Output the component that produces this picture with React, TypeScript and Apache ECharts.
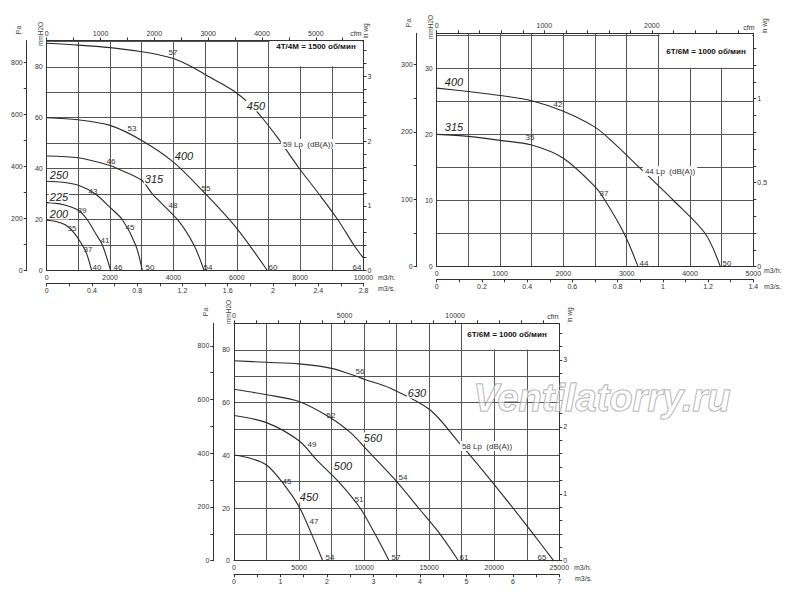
import React, { useEffect, useRef } from 'react';
import * as echarts from 'echarts';

const FONT = '"Liberation Sans", Arial, sans-serif';
const M3H_PER_CFM = 1.699;
const PA_PER_MM = 9.80665;
const MM_PER_INWG = 25.4;

// ---------- Chart 1: 4T/4M = 1500 об/мин (m3/h, mmH2O) ----------
const C1_TITLE = '4T/4M = 1500 об/мин';
const C1_200 = [[0, 19.8], [300, 19.3], [600, 17.9], [850, 15], [1050, 11.5], [1250, 7], [1420, 0]];
const C1_225 = [[0, 26.7], [500, 26], [1000, 23.7], [1280, 20], [1550, 14.5], [1760, 10], [2020, 0]];
const C1_250 = [[0, 35.1], [500, 34.7], [1000, 33.5], [1550, 30], [2000, 24.8], [2390, 20], [2810, 10], [3020, 0]];
const C1_315 = [[0, 45], [1000, 44.3], [2000, 41.3], [2280, 39.8], [3000, 35.5], [3340, 30], [4130, 20], [4650, 10], [4970, 0]];
const C1_400 = [[0, 60], [1000, 59.2], [2000, 57], [3000, 51.1], [4000, 42.6], [5000, 30.3], [6000, 16.6], [6970, 0]];
const C1_450 = [[0, 89.2], [1000, 88.5], [2000, 87.5], [3000, 85.9], [3500, 84.8], [4000, 83.2], [4500, 80.5], [5000, 77], [5500, 73.5], [5960, 70], [6400, 65.5], [6800, 60], [7300, 52], [7980, 40], [8600, 30], [9190, 20], [9700, 10], [10000, 4.9]];
const C1_DB = [
  [4000, 85.6, '57'], [2690, 55.8, '53'], [2035, 43, '46'], [1475, 31.4, '43'], [1107, 23.8, '39'],
  [790, 16.9, '35'], [1317, 8.5, '37'], [1590, 1.6, '40'], [1845, 12, '41'], [2235, 1.6, '46'],
  [2635, 17.3, '45'], [3270, 1.6, '50'], [3990, 25.8, '48'], [5095, 1.6, '54'], [5030, 32.5, '55'],
  [7140, 1.6, '60'], [9810, 1.6, '64'],
];
const C1_LP = [[8250, 49.6, '59 Lp  (dB(A))']];
const C1_SIZES = [
  [6620, 64.6, '450'], [4320, 45, '400'], [3400, 36, '315'],
  [400, 37.4, '250'], [400, 29, '225'], [400, 22.1, '200'],
];

// ---------- Chart 2: 6T/6M = 1000 об/мин (m3/h, mmH2O) ----------
const C2_TITLE = '6T/6M = 1000 об/мин';
const C2_315 = [[0, 20], [500, 19.7], [1000, 19.1], [1500, 18.4], [2000, 16.4], [2500, 12.1], [2660, 10], [2960, 5], [3180, 0]];
const C2_400 = [[0, 27], [500, 26.5], [1000, 25.9], [1500, 25.1], [2000, 23.5], [2500, 21.1], [2740, 19.2], [3200, 15], [3740, 10], [4240, 5], [4480, 0]];
const C2_DB = [
  [1920, 24.6, '42'], [1470, 19.6, '35'], [2650, 11.2, '37'], [3280, 0.6, '44'], [4590, 0.6, '50'],
];
const C2_LP = [[3690, 14.4, '44 Lp  (dB(A))']];
const C2_SIZES = [[280, 28, '400'], [280, 21.1, '315']];

// ---------- Chart 3: 6T/6M = 1000 об/мин (m3/h, mmH2O) ----------
const C3_TITLE = '6T/6M = 1000 об/мин';
const C3_450 = [[0, 40.1], [1250, 38.9], [2500, 36.3], [3670, 30], [5000, 20.5], [5970, 10], [6820, 0]];
const C3_500 = [[0, 55.1], [2500, 52.4], [5000, 45.5], [6400, 38], [8030, 30], [9690, 20], [10850, 10], [11920, 0]];
const C3_560 = [[0, 65.1], [2500, 63], [5000, 60.4], [7500, 54], [9000, 48.4], [10000, 43.2], [12510, 30], [14180, 20], [15850, 10], [17250, 0]];
const C3_630 = [[0, 75.9], [2500, 75.3], [5000, 74.7], [7500, 73], [9400, 70], [10000, 68.9], [12000, 65.5], [15080, 57.2], [17500, 43.6], [18150, 40], [19820, 30], [21440, 20], [23020, 10], [24560, 0]];
const C3_DB = [
  [9690, 72.1, '56'], [7440, 55.3, '52'], [5980, 44.3, '49'], [4100, 30.4, '45'], [6150, 15.1, '47'],
  [7380, 1.5, '54'], [9590, 23.4, '51'], [12440, 1.5, '57'], [12950, 31.7, '54'], [17690, 1.5, '61'],
  [23670, 1.5, '65'],
];
const C3_LP = [[19480, 43.7, '58 Lp  (dB(A))']];
const C3_SIZES = [[14050, 63.6, '630'], [10720, 46.5, '560'], [8410, 36, '500'], [5790, 24.1, '450']];

const CHARTS = [
  {
    title: C1_TITLE, box: [269.5, 41, 93, 25.2], titlePos: [316, 46],
    grid: { left: 46.7, top: 40.5, width: 316.8, height: 230.2 },
    xMax: 10000, xSplit: 1000, xLabel: 2000,
    yMax: 90.3, ySplit: 10, yLabel: 20,
    paSplit: 100, paLabel: 200, paOffset: 20,
    inSplit: 0.2, inLabel: 1,
    cfmSplit: 500, cfmLabel: 1000,
    m3sMax: 2.8, m3sSplit: 0.2, m3sLabel: 0.4, m3sOffset: 12.6,
    curves: [C1_200, C1_225, C1_250, C1_315, C1_400, C1_450],
    db: C1_DB, lp: C1_LP, sizes: C1_SIZES,
    units: { pa: [18, 30], mm: [40, 34], inwg: [365, 31], cfm: [356, 33], m3h: [378, 277], m3s: [378, 288] },
  },
  {
    title: C2_TITLE, box: [659.5, 34, 92.8, 33.8], titlePos: [706, 51],
    grid: { left: 436.7, top: 33.3, width: 316.6, height: 233.3 },
    xMax: 5000, xSplit: 500, xLabel: 1000,
    yMax: 35.3, ySplit: 5, yLabel: 10,
    paSplit: 50, paLabel: 100, paOffset: 20,
    inSplit: 0.1, inLabel: 0.5,
    cfmSplit: 200, cfmLabel: 1000,
    m3sMax: 1.4, m3sSplit: 0.1, m3sLabel: 0.2, m3sOffset: 12.7,
    curves: [C2_315, C2_400],
    db: C2_DB, lp: C2_LP, sizes: C2_SIZES,
    units: { pa: [408, 23], mm: [430, 27], inwg: [764, 26], cfm: [749, 27], m3h: [764, 270], m3s: [764, 286] },
  },
  {
    title: C3_TITLE, box: [462.5, 324, 96, 25.5], titlePos: [507, 334],
    grid: { left: 234, top: 323.3, width: 325.3, height: 237.4 },
    xMax: 25000, xSplit: 2500, xLabel: 5000,
    yMax: 90.1, ySplit: 10, yLabel: 20,
    paSplit: 100, paLabel: 200, paOffset: 20.7,
    inSplit: 0.2, inLabel: 1,
    cfmSplit: 1000, cfmLabel: 5000,
    m3sMax: 7, m3sSplit: 0.5, m3sLabel: 1, m3sOffset: 13.6,
    curves: [C3_450, C3_500, C3_560, C3_630],
    db: C3_DB, lp: C3_LP, sizes: C3_SIZES,
    units: { pa: [205, 312], mm: [228, 312], inwg: [569, 315], cfm: [553, 316], m3h: [574, 567], m3s: [575, 578] },
  },
];

const isMult = (v: number, s: number) => Math.abs(v / s - Math.round(v / s)) < 1e-6;
const fmt = (s: number) => (v: number) => (isMult(v, s) ? String(+v.toFixed(3)) : '');
const tickVals = (max: number, step: number) => {
  const a: number[] = [];
  for (let i = 0; i * step <= max + 1e-9; i++) a.push(+(i * step).toFixed(4));
  return a;
};

const AX = '#333';
const labelStyle = { fontSize: 7, color: '#333', fontFamily: FONT };

function textSeries(xi: number, yi: number, items: any[], font: string, fill: string, bg: string | null, pad: number[]) {
  return {
    type: 'custom', coordinateSystem: 'cartesian2d', xAxisIndex: xi, yAxisIndex: yi, silent: true, z: 5,
    data: items.map(([x, y]) => [x, y]),
    renderItem: (params: any, api: any) => {
      const p = api.coord([api.value(0), api.value(1)]);
      const style: any = {
        text: items[params.dataIndex][2], font, fill, align: 'center', verticalAlign: 'middle',
      };
      if (bg) { style.backgroundColor = bg; style.padding = pad; }
      return { type: 'text', x: Math.round(p[0]), y: Math.round(p[1]), style };
    },
  };
}

function buildOption() {
  const grid: any[] = [];
  const xAxis: any[] = [];
  const yAxis: any[] = [];
  const series: any[] = [];
  const graphic: any[] = [];

  CHARTS.forEach((c, i) => {
    grid.push({ ...c.grid, containLabel: false });
    const cfmMax = c.xMax / M3H_PER_CFM;
    const paMax = c.yMax * PA_PER_MM;
    const inMax = c.yMax / MM_PER_INWG;
    // m3/h
    xAxis.push({
      type: 'value', gridIndex: i, position: 'bottom', min: 0, max: c.xMax, interval: c.xSplit,
      axisLine: { show: true, onZero: false, lineStyle: { color: AX, width: 1 } },
      axisTick: { show: false },
      axisLabel: { ...labelStyle, margin: 3, formatter: fmt(c.xLabel) },
      splitLine: { show: true, lineStyle: { color: '#555', width: 1 } },
    });
    // cfm
    xAxis.push({
      type: 'value', gridIndex: i, position: 'top', min: 0, max: cfmMax, interval: c.cfmSplit,
      axisLine: { show: true, onZero: false, lineStyle: { color: AX, width: 1 } },
      axisTick: { show: true, length: 3, lineStyle: { color: AX }, customValues: tickVals(cfmMax, c.cfmSplit) },
      axisLabel: { ...labelStyle, margin: 4, formatter: fmt(c.cfmLabel) },
      splitLine: { show: false },
    });
    // m3/s
    xAxis.push({
      type: 'value', gridIndex: i, position: 'bottom', offset: c.m3sOffset, min: 0, max: c.m3sMax, interval: c.m3sSplit,
      axisLine: { show: true, onZero: false, lineStyle: { color: AX, width: 1 } },
      axisTick: { show: true, length: 3, lineStyle: { color: AX } },
      axisLabel: { ...labelStyle, margin: 4, formatter: fmt(c.m3sLabel) },
      splitLine: { show: false },
    });
    // mmH2O
    yAxis.push({
      type: 'value', gridIndex: i, position: 'left', min: 0, max: c.yMax, interval: c.ySplit,
      axisLine: { show: true, onZero: false, lineStyle: { color: AX, width: 1 } },
      axisTick: { show: false },
      axisLabel: { ...labelStyle, margin: 4, formatter: fmt(c.yLabel) },
      splitLine: { show: true, lineStyle: { color: '#555', width: 1 } },
    });
    // Pa
    yAxis.push({
      type: 'value', gridIndex: i, position: 'left', offset: c.paOffset, min: 0, max: paMax, interval: c.paSplit,
      axisLine: { show: true, onZero: false, lineStyle: { color: AX, width: 1 } },
      axisTick: { show: true, length: 3, lineStyle: { color: AX }, customValues: tickVals(paMax, c.paSplit) },
      axisLabel: { ...labelStyle, margin: 4, formatter: fmt(c.paLabel) },
      splitLine: { show: false },
    });
    // in wg
    yAxis.push({
      type: 'value', gridIndex: i, position: 'right', min: 0, max: inMax, interval: c.inSplit,
      axisLine: { show: true, onZero: false, lineStyle: { color: AX, width: 1 } },
      axisTick: { show: true, length: 3, lineStyle: { color: AX }, customValues: tickVals(inMax, c.inSplit) },
      axisLabel: { ...labelStyle, margin: 4, formatter: fmt(c.inLabel) },
      splitLine: { show: false },
    });

    const xi = i * 3;
    const yi = i * 3;
    c.curves.forEach((d) => {
      series.push({
        type: 'line', xAxisIndex: xi, yAxisIndex: yi, data: d, smooth: 0.3,
        symbol: 'none', showSymbol: false, silent: true, z: 3,
        lineStyle: { color: '#2a2a2a', width: 1.1 },
        emphasis: { disabled: true },
      });
    });
    series.push(textSeries(xi, yi, c.db, `8px ${FONT}`, '#333', null, [0, 0]));
    series.push(textSeries(xi, yi, c.lp, `8px ${FONT}`, '#333', '#fff', [1, 2]));
    series.push(textSeries(xi, yi, c.sizes, `italic 11px ${FONT}`, '#222', '#fff', [0, 1]));

    // title box
    graphic.push({
      type: 'rect', z: 50, shape: { x: c.box[0], y: c.box[1], width: c.box[2], height: c.box[3] },
      style: { fill: '#fff' }, silent: true,
    });
    graphic.push({
      type: 'text', z: 51, x: c.titlePos[0], y: c.titlePos[1], silent: true,
      style: { text: c.title, font: `bold 8px ${FONT}`, fill: '#111', align: 'center', verticalAlign: 'middle' },
    });
    const u = c.units;
    const rot = (p: number[], t: string, size = 7) => ({
      type: 'text', z: 51, x: p[0], y: p[1], rotation: Math.PI / 2, silent: true,
      style: { text: t, font: `${size}px ${FONT}`, fill: '#444', align: 'center', verticalAlign: 'middle' },
    });
    graphic.push(rot(u.pa, 'Pa', 7));
    graphic.push(rot(u.mm, 'mmH2O', 6.5));
    graphic.push(rot(u.inwg, 'in wg', 6.5));
    graphic.push({
      type: 'text', z: 51, x: u.cfm[0], y: u.cfm[1], silent: true,
      style: { text: 'cfm', font: `7px ${FONT}`, fill: '#333', align: 'center', verticalAlign: 'middle' },
    });
    graphic.push({
      type: 'text', z: 51, x: u.m3h[0], y: u.m3h[1], silent: true,
      style: { text: 'm3/h.', font: `7px ${FONT}`, fill: '#333', align: 'left', verticalAlign: 'middle' },
    });
    graphic.push({
      type: 'text', z: 51, x: u.m3s[0], y: u.m3s[1], silent: true,
      style: { text: 'm3/s.', font: `7px ${FONT}`, fill: '#333', align: 'left', verticalAlign: 'middle' },
    });
  });

  graphic.push({
    type: 'text', z: 60, x: 602, y: 398, silent: true,
    style: {
      text: 'Ventilatorry.ru', font: `italic bold 38px ${FONT}`, fill: 'rgba(255,255,255,0.55)',
      stroke: '#999', lineWidth: 1, align: 'center', verticalAlign: 'middle',
    },
  });

  return {
    animation: false,
    backgroundColor: '#fff',
    textStyle: { fontFamily: FONT },
    grid, xAxis, yAxis, series, graphic,
  };
}

export default function App() {
  const ref = useRef<HTMLDivElement>(null);
  useEffect(() => {
    if (!ref.current) return;
    const chart = echarts.init(ref.current, undefined, { renderer: 'svg' });
    chart.setOption(buildOption() as any);
    return () => chart.dispose();
  }, []);
  return (
    <div
      ref={ref}
      style={{ position: 'absolute', left: 0, top: 0, width: 800, height: 599, background: '#fff' }}
    />
  );
}
